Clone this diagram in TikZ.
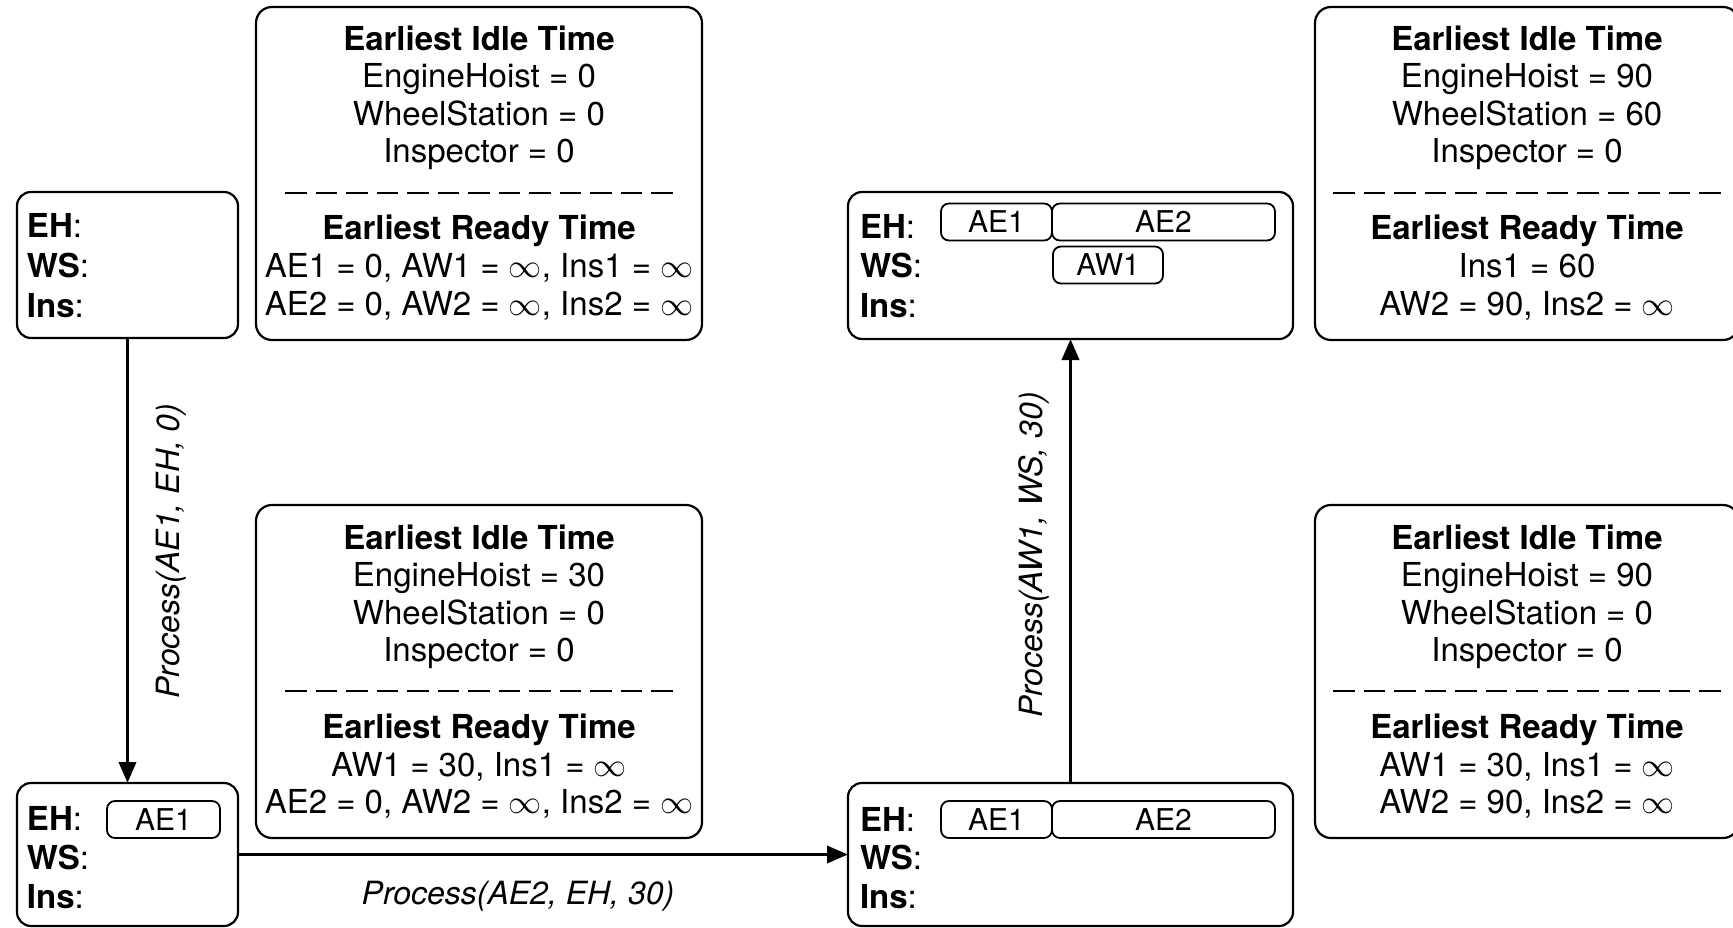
\RequirePackage{fix-cm}
\documentclass[tikz,border=0pt]{standalone}
\usepackage{fontspec}
\setmainfont{TeX Gyre Heros}
\usetikzlibrary{arrows.meta}
\newcommand\mkinfo[9]{%
  \node[infobox, minimum width=#4pt, minimum height=333pt] (#1) at (#2,#3+166.5) {};
  \node[txtline] (#1a) at (#2,#3+44) {\textbf{Earliest Idle Time}};
  \node[txtline] (#1b) at (#2,#3+81) {EngineHoist = #5};
  \node[txtline] (#1c) at (#2,#3+119) {WheelStation = #6};
  \node[txtline] (#1d) at (#2,#3+156) {Inspector = #7};
  \draw[sepline] (#2-194,#3+186) -- (#2+194,#3+186);
  \node[txtline] (#1e) at (#2,#3+233) {\textbf{Earliest Ready Time}};
  \node[txtline] (#1f) at (#2,#3+271) {#8};
  \node[txtline] (#1g) at (#2,#3+308) {#9};
}
\begin{document}
\begin{tikzpicture}[x=1pt,y=-1pt,
  every node/.style={inner sep=0pt, outer sep=0pt, font=\fontsize{33}{38}\selectfont},
  statebox/.style={draw, line width=2.2pt, rounded corners=14pt},
  infobox/.style={draw, line width=2.2pt, rounded corners=16pt},
  job/.style={draw, line width=1.8pt, rounded corners=8pt, minimum height=37pt, font=\fontsize{30}{36}\selectfont},
  rowlabel/.style={anchor=base west},
  txtline/.style={anchor=base},
  sepline/.style={line width=2.2pt, dash pattern=on 21.5pt off 9pt},
  flow/.style={line width=3.6pt, -{Triangle[length=21pt,width=17pt]}},
  proc/.style={font=\fontsize{32}{38}\selectfont\itshape}]
\useasboundingbox (0,0) rectangle (1733,928);
\clip (0,0) rectangle (1733,928);

% state boxes
\node[statebox, minimum width=221pt, minimum height=146pt] (A) at (127.5,265) {};
\node[statebox, minimum width=221pt, minimum height=143pt] (B) at (127.5,854.5) {};
\node[statebox, minimum width=445pt, minimum height=143pt] (C) at (1070.5,854.5) {};
\node[statebox, minimum width=445pt, minimum height=147pt] (D) at (1070.5,265.5) {};

% row labels
\node[rowlabel] (Aeh) at (27,238) {\textbf{EH}:};
\node[rowlabel] (Aws) at (27,278) {\textbf{WS}:};
\node[rowlabel] (Ain) at (27,317) {\textbf{Ins}:};
\node[rowlabel] (Beh) at (27,830) {\textbf{EH}:};
\node[rowlabel] (Bws) at (27,869) {\textbf{WS}:};
\node[rowlabel] (Bin) at (27,908) {\textbf{Ins}:};
\node[rowlabel] (Ceh) at (860,831) {\textbf{EH}:};
\node[rowlabel] (Cws) at (860,869) {\textbf{WS}:};
\node[rowlabel] (Cin) at (860,908) {\textbf{Ins}:};
\node[rowlabel] (Deh) at (860,239) {\textbf{EH}:};
\node[rowlabel] (Dws) at (860,278) {\textbf{WS}:};
\node[rowlabel] (Din) at (860,317) {\textbf{Ins}:};

% jobs
\node[job, minimum width=113pt] (Bae1) at (163.5,819.5) {AE1};
\node[job, minimum width=111pt] (Cae1) at (996.5,819.5) {AE1};
\node[job, minimum width=223pt] (Cae2) at (1163.5,819.5) {AE2};
\node[job, minimum width=111pt] (Dae1) at (996.5,222) {AE1};
\node[job, minimum width=223pt] (Dae2) at (1163.5,222) {AE2};
\node[job, minimum width=110pt] (Daw1) at (1108,265) {AW1};

% info boxes
\mkinfo{I1}{479}{7}{446}{0}{0}{0}{AE1 = 0, AW1 = $\infty$, Ins1 = $\infty$}{AE2 = 0, AW2 = $\infty$, Ins2 = $\infty$}
\mkinfo{I2}{479}{505}{446}{30}{0}{0}{AW1 = 30, Ins1 = $\infty$}{AE2 = 0, AW2 = $\infty$, Ins2 = $\infty$}
\mkinfo{I3}{1527}{7}{424}{90}{60}{0}{Ins1 = 60}{AW2 = 90, Ins2 = $\infty$}
\mkinfo{I4}{1527}{505}{424}{90}{0}{0}{AW1 = 30, Ins1 = $\infty$}{AW2 = 90, Ins2 = $\infty$}

% transitions
\draw[flow] (A.south) -- (B.north);
\draw[flow] (B.east) -- (C.west);
\draw[flow] (C.north) -- (D.south);
\node[proc, rotate=90] (L1) at (171,551) {Process(AE1, EH, 0)};
\node[proc, anchor=base] (L2) at (518,904) {Process(AE2, EH, 30)};
\node[proc, rotate=90] (L3) at (1034,555) {Process(AW1, WS, 30)};
\end{tikzpicture}
\end{document}
